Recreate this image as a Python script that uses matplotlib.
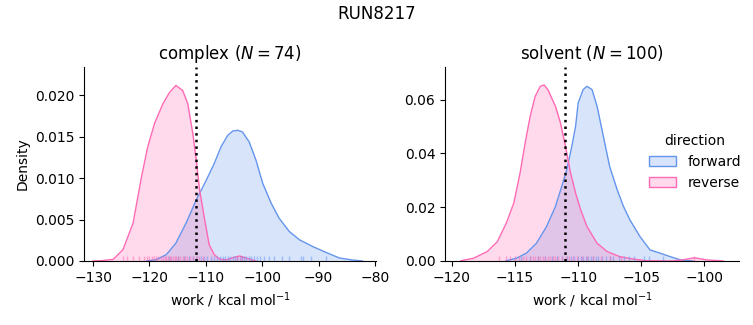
import numpy as np
import matplotlib
matplotlib.use("Agg")
import matplotlib.pyplot as plt
from matplotlib.patches import Patch
from matplotlib.colors import to_rgba

# KDE curves (work in kcal/mol, density)
cx_rev_x = [-130.0, -128.5, -126.4, -124.7, -122.9, -121.4, -120.3, -119.1, -117.6, -116.4,
            -115.3, -114.1, -113.2, -112.3, -111.7, -111.1, -110.2, -109.4, -108.5, -107.6,
            -106.4, -105.2, -104.0, -102.6, -101.1]
cx_rev_y = [0.0, 0.00004, 0.0002, 0.00136, 0.00456, 0.01016, 0.01376, 0.01657, 0.01897, 0.02036,
            0.02117, 0.02056, 0.01897, 0.01536, 0.01216, 0.00856, 0.00496, 0.00196, 0.00076, 0.00024,
            0.00012, 0.0004, 0.0006, 0.0003, 0.0]
cx_fwd_x = [-120.5, -118.8, -117.0, -115.3, -113.5, -111.7, -109.9, -108.5, -107.3, -106.1,
            -105.2, -104.3, -103.5, -102.3, -101.1, -99.9, -98.4, -97.0, -95.2, -93.4,
            -91.1, -88.7, -86.3, -84.0, -82.2]
cx_fwd_y = [0.0, 0.00016, 0.00076, 0.00216, 0.00456, 0.00736, 0.00976, 0.01176, 0.01376, 0.01516,
            0.01568, 0.01576, 0.01556, 0.01436, 0.01216, 0.00936, 0.00696, 0.00516, 0.00356, 0.00256,
            0.00176, 0.00104, 0.00036, 0.00012, 0.0]

sv_rev_x = [-119.3, -118.3, -117.2, -116.4, -115.7, -115.1, -114.6, -114.2, -113.8, -113.4,
            -113.0, -112.7, -112.4, -111.8, -111.4, -111.0, -110.6, -110.2, -109.8, -109.3,
            -108.5, -107.7, -106.7, -105.6, -104.6, -102.5, -101.7, -100.8, -99.8, -98.5]
sv_rev_y = [0.0001, 0.0010, 0.0035, 0.0072, 0.0140, 0.0215, 0.0327, 0.0438, 0.0538, 0.0612,
            0.0649, 0.0654, 0.0637, 0.0575, 0.0513, 0.0426, 0.0327, 0.0252, 0.0190, 0.0128,
            0.0066, 0.0035, 0.0016, 0.0007, 0.0001, 0.0, 0.0004, 0.0012, 0.0004, 0.0]
sv_fwd_x = [-115.7, -114.9, -114.1, -113.3, -112.5, -111.8, -111.3, -110.9, -110.5, -110.2,
            -110.0, -109.6, -109.3, -108.9, -108.5, -108.0, -107.5, -106.9, -106.4, -105.9,
            -105.1, -104.3, -103.5, -102.7, -101.9, -100.9]
sv_fwd_y = [0.0001, 0.0010, 0.0029, 0.0066, 0.0128, 0.0202, 0.0277, 0.0339, 0.0426, 0.0500,
            0.0587, 0.0637, 0.0649, 0.0637, 0.0575, 0.0463, 0.0351, 0.0264, 0.0202, 0.0153,
            0.0091, 0.0041, 0.0029, 0.0016, 0.0004, 0.0]

# rug marks (individual work values)
cx_rev_rug = [-124.7, -124.0, -122.9, -121.8, -121.0, -120.5, -120.0, -119.6, -119.2, -118.8,
              -118.4, -118.0, -117.6, -117.3, -117.0, -116.7, -116.4, -116.1, -115.8, -115.5,
              -115.2, -114.9, -114.5, -114.1, -113.7, -113.3, -112.8, -112.3, -111.8, -111.2,
              -110.5, -104.5, -103.8]
cx_fwd_rug = [-116.5, -115.0, -113.8, -112.9, -112.2, -111.5, -110.9, -110.3, -109.7, -109.1,
              -108.6, -108.0, -107.5, -107.0, -106.6, -106.1, -105.7, -105.2, -104.8, -104.4,
              -104.0, -103.6, -103.2, -102.8, -102.3, -101.9, -101.4, -100.9, -100.3, -99.6,
              -98.8, -97.9, -96.5, -95.3, -93.1, -92.8, -91.3, -88.7]
sv_rev_rug = [-116.3, -115.7, -115.4, -115.0, -114.7, -114.4, -114.1, -113.8, -113.6, -113.4,
              -113.2, -113.0, -112.8, -112.6, -112.4, -112.2, -112.0, -111.8, -111.6, -111.3,
              -111.0, -110.7, -110.4, -110.1, -109.7, -109.3, -108.8, -108.2, -107.5, -106.6,
              -100.8]
sv_fwd_rug = [-114.5, -113.8, -113.2, -112.6, -112.1, -111.7, -111.3, -110.9, -110.6, -110.3,
              -110.0, -109.8, -109.6, -109.4, -109.2, -109.0, -108.8, -108.6, -108.4, -108.1,
              -107.8, -107.5, -107.2, -106.8, -106.4, -106.0, -105.6, -104.8, -104.4, -103.25]

estimates = [-111.7, -111.03]
titles = ["complex ($N = 74$)", "solvent ($N = 100$)"]
fwd_color = "cornflowerblue"
rev_color = "hotpink"

fig = plt.figure(figsize=(7.53, 3.25), dpi=100)
ax1 = fig.add_axes([0.1116, 0.197, 0.3878, 0.597])
ax2 = fig.add_axes([0.591, 0.197, 0.3904, 0.597])

panels = [
    (ax1, cx_fwd_x, cx_fwd_y, cx_rev_x, cx_rev_y, cx_fwd_rug, cx_rev_rug),
    (ax2, sv_fwd_x, sv_fwd_y, sv_rev_x, sv_rev_y, sv_fwd_rug, sv_rev_rug),
]

for i, (ax, fx, fy, rx, ry, frug, rrug) in enumerate(panels):
    for x, y, c in [(fx, fy, fwd_color), (rx, ry, rev_color)]:
        ax.fill_between(x, y, color=c, alpha=0.25, linewidth=0)
        ax.plot(x, y, color=c, lw=1.0)
    trans = ax.get_xaxis_transform()
    for vals, c in [(frug, fwd_color), (rrug, rev_color)]:
        ax.vlines(vals, 0, 0.025, transform=trans, color=c, lw=1.0, alpha=0.5)
    ax.axvline(estimates[i], color="black", ls=":", lw=1.8)
    ax.set_title(titles[i], fontsize=12)
    ax.set_xlabel("work / kcal mol$^{-1}$")
    ax.spines["top"].set_visible(False)
    ax.spines["right"].set_visible(False)

ax1.set_xlim(-131.6, -79.8)
ax1.set_ylim(0, 0.0234)
ax1.set_xticks([-130, -120, -110, -100, -90, -80])
ax1.set_yticks([0.0, 0.005, 0.010, 0.015, 0.020])
ax1.set_ylabel("Density")

ax2.set_xlim(-120.55, -97.25)
ax2.set_ylim(0, 0.0721)
ax2.set_xticks([-120, -115, -110, -105, -100])
ax2.set_yticks([0.0, 0.02, 0.04, 0.06])

handles = [Patch(facecolor=to_rgba(fwd_color, 0.25), edgecolor=fwd_color, lw=1.0, label="forward"),
           Patch(facecolor=to_rgba(rev_color, 0.25), edgecolor=rev_color, lw=1.0, label="reverse")]
ax2.legend(handles=handles, title="direction", frameon=False,
           loc="center left", bbox_to_anchor=(0.65, 0.51))

fig.suptitle("RUN8217", fontsize=12, y=0.985)
fig.savefig("out.png", dpi=100)
